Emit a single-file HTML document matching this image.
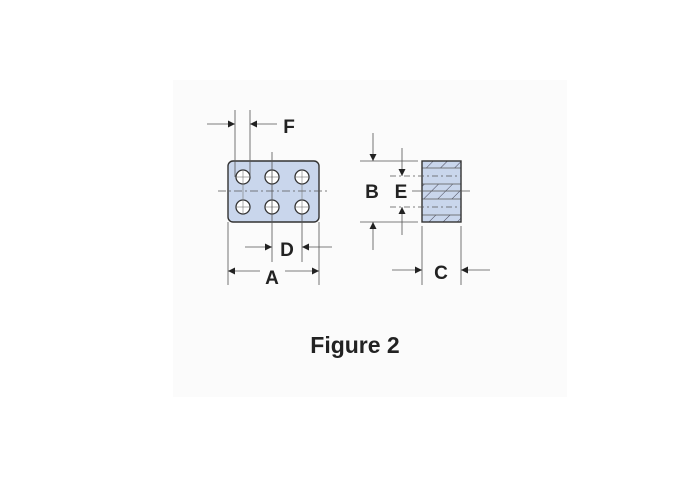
<!DOCTYPE html>
<html><head><style>body{margin:0;background:#fff}svg{display:block}</style></head><body>
<svg width="700" height="477" viewBox="0 0 700 477" xmlns="http://www.w3.org/2000/svg">
<defs>
<marker id="ar" viewBox="0 0 10 10" refX="10" refY="5" markerWidth="12" markerHeight="7" orient="auto" markerUnits="userSpaceOnUse"><path d="M0,0 L10,5 L0,10z" fill="#222"/></marker>
<pattern id="h" width="10" height="10" patternUnits="userSpaceOnUse" patternTransform="rotate(45)"><rect width="10" height="10" fill="#c9d6ec"/><line x1="0" y1="0" x2="0" y2="10" stroke="#445" stroke-width="1"/></pattern>
</defs>
<rect x="173" y="80" width="394" height="317" fill="#fbfbfb"/>
<g stroke="#555" stroke-width="0.8" fill="none">
<rect x="228" y="161" width="91" height="61" rx="5" fill="#c9d6ec" stroke="#333" stroke-width="1.4"/>
<line x1="218" y1="191" x2="328" y2="191" stroke-dasharray="8,3,2,3"/>
<g fill="#fff" stroke="#333" stroke-width="1.3">
<circle cx="243" cy="177" r="7"/><circle cx="272" cy="177" r="7"/><circle cx="302" cy="177" r="7"/>
<circle cx="243" cy="207" r="7"/><circle cx="272" cy="207" r="7"/><circle cx="302" cy="207" r="7"/>
</g>
<g stroke="#777" stroke-width="0.6">
<line x1="236" y1="177" x2="250" y2="177"/><line x1="265" y1="177" x2="279" y2="177"/><line x1="295" y1="177" x2="309" y2="177"/>
<line x1="236" y1="207" x2="250" y2="207"/><line x1="265" y1="207" x2="279" y2="207"/><line x1="295" y1="207" x2="309" y2="207"/>
<line x1="243" y1="170" x2="243" y2="214"/><line x1="302" y1="170" x2="302" y2="214"/>
</g>
<line x1="235" y1="110" x2="235" y2="177"/><line x1="250" y1="110" x2="250" y2="177"/>
<line x1="207" y1="124" x2="235" y2="124" marker-end="url(#ar)"/>
<line x1="277" y1="124" x2="250" y2="124" marker-end="url(#ar)"/>
<line x1="272" y1="152" x2="272" y2="262"/><line x1="302" y1="214" x2="302" y2="262"/>
<line x1="245" y1="247" x2="272" y2="247" marker-end="url(#ar)"/>
<line x1="332" y1="247" x2="302" y2="247" marker-end="url(#ar)"/>
<line x1="228" y1="222" x2="228" y2="285"/><line x1="319" y1="222" x2="319" y2="285"/>
<line x1="260" y1="271" x2="228" y2="271" marker-end="url(#ar)"/>
<line x1="285" y1="271" x2="319" y2="271" marker-end="url(#ar)"/>
<rect x="422" y="161" width="39" height="61" fill="#c9d6ec"/>
<rect x="422" y="161" width="39" height="7" fill="url(#h)" stroke="none"/>
<rect x="422" y="184" width="39" height="15" fill="url(#h)" stroke="none"/>
<rect x="422" y="215" width="39" height="7" fill="url(#h)" stroke="none"/>
<line x1="422" y1="168" x2="461" y2="168"/><line x1="422" y1="184" x2="461" y2="184"/>
<line x1="422" y1="199" x2="461" y2="199"/><line x1="422" y1="215" x2="461" y2="215"/>
<rect x="422" y="161" width="39" height="61" stroke="#333" stroke-width="1.4"/>
<line x1="390" y1="176" x2="461" y2="176" stroke-dasharray="6,3,2,3"/>
<line x1="390" y1="207" x2="461" y2="207" stroke-dasharray="6,3,2,3"/>
<line x1="412" y1="191" x2="470" y2="191"/>
<line x1="360" y1="161" x2="418" y2="161"/><line x1="360" y1="222" x2="418" y2="222"/>
<line x1="373" y1="133" x2="373" y2="161" marker-end="url(#ar)"/>
<line x1="373" y1="250" x2="373" y2="222" marker-end="url(#ar)"/>
<line x1="402" y1="148" x2="402" y2="176" marker-end="url(#ar)"/>
<line x1="402" y1="235" x2="402" y2="207" marker-end="url(#ar)"/>
<line x1="422" y1="226" x2="422" y2="285"/><line x1="461" y1="226" x2="461" y2="285"/>
<line x1="392" y1="270" x2="422" y2="270" marker-end="url(#ar)"/>
<line x1="490" y1="270" x2="461" y2="270" marker-end="url(#ar)"/>
</g>
<g font-family="Liberation Sans, sans-serif" font-weight="bold" font-size="19" fill="#222" text-anchor="middle">
<text x="289" y="133">F</text>
<text x="287" y="256">D</text>
<text x="272" y="284">A</text>
<text x="372" y="198">B</text>
<text x="401" y="198">E</text>
<text x="441" y="279">C</text>
<text x="355" y="353" font-size="23">Figure 2</text>
</g>
</svg>
</body></html>
